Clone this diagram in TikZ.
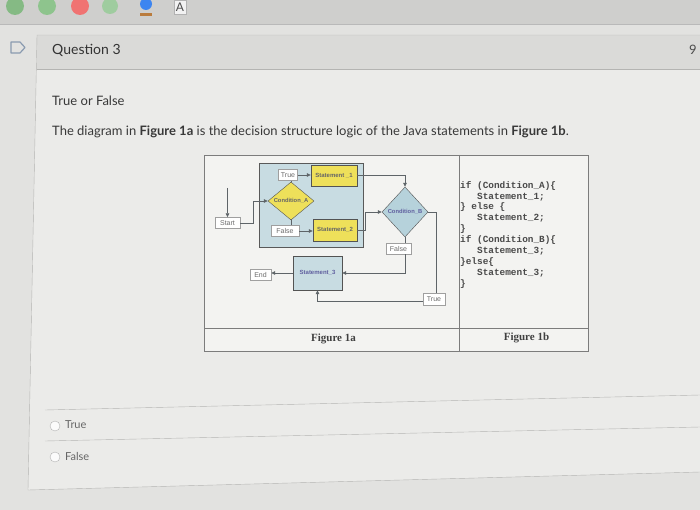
\documentclass[tikz,border=0pt]{standalone}
\usepackage{fontspec}
\setmainfont{Lato}
\newfontfamily\codefont{Liberation Mono}
\newfontfamily\capfont{Liberation Serif}
\newfontfamily\chartfont{Liberation Sans}
\usetikzlibrary{shapes.geometric,arrows.meta}

\definecolor{pagebg}{HTML}{E2E2E0}
\definecolor{cardbg}{HTML}{EBEBE9}
\definecolor{headbg}{HTML}{DADAD8}
\definecolor{barbg}{HTML}{CFCFCD}
\definecolor{cardline}{HTML}{B4B4B2}
\definecolor{figbg}{HTML}{F3F3F1}
\definecolor{figline}{HTML}{7C7C7C}
\definecolor{stmtyellow}{HTML}{EEE05A}
\definecolor{boxblue}{HTML}{C8DCE2}
\definecolor{condblue}{HTML}{B6D2DB}
\definecolor{flowgray}{HTML}{5E6468}
\definecolor{codegray}{HTML}{4A4A4A}
\definecolor{flagblue}{HTML}{8A9BB0}

\begin{document}
\begin{tikzpicture}[x=1pt, y=-1pt,
  every node/.style={inner sep=0pt},
  tag/.style={draw=gray!75, fill=white, text=gray!85!black,
    font=\chartfont\fontsize{7}{7}\selectfont, minimum height=11pt},
  stmt/.style={draw=gray!65!black, fill=stmtyellow, text=black!60,
    font=\chartfont\bfseries\fontsize{6}{6}\selectfont},
  cond/.style={diamond, draw=gray!65!black},
  condtext/.style={text=black!60, font=\chartfont\bfseries\fontsize{5.8}{6}\selectfont},
  flow/.style={draw=flowgray, line width=0.7pt, -{Triangle[length=4pt,width=3.6pt]}},
  link/.style={draw=flowgray, line width=0.7pt}]
  \useasboundingbox (0,0) rectangle (700,510);
  \fill[pagebg] (0,0) rectangle (700,510);

  % browser toolbar
  \fill[barbg] (0,0) rectangle (700,24);
  \draw[gray!55] (0,24) -- (700,24);
  \fill[green!50!black!60, opacity=0.7] (15,6) circle (9);
  \fill[green!55!black!55, opacity=0.7] (47,6) circle (9);
  \fill[red!70!white, opacity=0.7] (80,6) circle (9);
  \fill[green!55!black!45, opacity=0.7] (110,6) circle (8);
  \fill[blue!60!cyan, opacity=0.7] (146,4) circle (6);
  \fill[orange!70!black, opacity=0.7] (140,13) rectangle (152,16);
  \node[draw=gray!60, fill=white!90!gray, minimum width=12pt, minimum height=14pt,
    font=\fontsize{12}{12}\selectfont, text=black!70] (fontbtn) at (180,7) {A};

  % question card
  \fill[cardbg] (37,35) -- (700,35) -- (700,472) -- (28,490) -- cycle;
  \fill[headbg] (37,35) rectangle (700,69);
  \draw[cardline] (700,35) -- (37,35) -- (28,490) -- (700,472);
  \draw[cardline] (37,69) -- (700,69);
  \draw[flagblue, line width=1.2pt, line join=round]
    (11,42) -- (20,42) -- (25,47.5) -- (20,53) -- (11,53) -- cycle;
  \node[anchor=west, font=\fontsize{14}{16}\selectfont, text=black!80] (qtitle) at (52,50) {Question 3};
  \node[anchor=west, font=\fontsize{13}{15}\selectfont, text=black!70] (qpts) at (689,50) {9};
  \node[anchor=west, font=\fontsize{13}{15}\selectfont, text=black!78] (qtype) at (52,101) {True or False};
  \node[anchor=west, font=\fontsize{13}{15}\selectfont, text=black!78] (qtext) at (52,132)
    {The diagram in \textbf{Figure 1a} is the decision structure logic of the Java statements in \textbf{Figure 1b}.};

  % figure frame
  \fill[figbg] (204,155) rectangle (588,351);
  \draw[figline, line width=0.8pt] (204,155) rectangle (588,351);
  \draw[figline, line width=0.8pt] (459,155) -- (459,351);
  \draw[figline, line width=0.8pt] (204,328) -- (588,328);
  \node[font=\capfont\bfseries\fontsize{11}{12}\selectfont, text=black!75] (capA) at (333.5,339) {Figure 1a};
  \node[font=\capfont\bfseries\fontsize{11}{12}\selectfont, text=black!75] (capB) at (526.5,338) {Figure 1b};

  % flowchart
  \filldraw[fill=boxblue, draw=gray!70!black, line width=0.6pt] (259,163) rectangle (363,247);
  \node[tag, minimum width=25pt] (start) at (227.5,223) {Start};
  \coordinate (entry) at (227.5,188);
  \node[cond, fill=stmtyellow, minimum width=46pt, minimum height=38pt,
    label={[condtext]center:Condition\_A}] (condA) at (291,201) {};
  \node[tag, minimum width=19pt] (trueA) at (288,175) {True};
  \node[stmt, minimum width=46pt, minimum height=21pt] (s1) at (334,175.5) {Statement \_1};
  \node[tag, minimum width=28pt] (falseA) at (285,231) {False};
  \node[stmt, minimum width=44pt, minimum height=22pt] (s2) at (335,230) {Statement\_2};
  \node[cond, fill=condblue, minimum width=46pt, minimum height=50pt,
    label={[condtext, text=blue!25!gray]center:Condition\_B}] (condB) at (405,212) {};
  \node[tag, minimum width=25pt] (falseB) at (398.5,248.5) {False};
  \node[stmt, fill=boxblue, text=blue!25!gray, minimum width=49pt, minimum height=34pt] (s3) at (317.5,273) {Statement\_3};
  \node[tag, minimum width=21pt] (endn) at (260.5,274.5) {End};
  \node[tag, minimum width=22pt, minimum height=12pt] (trueB) at (434,299) {True};

  \draw[flow] (entry) -- (start);
  \draw[flow] (start.east) -- ++(13,0) |- (condA.west);
  \draw[link] (condA.north) -- (condA.north |- trueA.south);
  \draw[link] (condA.south) -- (condA.south |- falseA.north);
  \draw[flow] (trueA.east) -- (trueA.east -| s1.west);
  \draw[flow] (falseA.east) -- (falseA.east -| s2.west);
  \draw[flow] (s1.east) -| (condB.north);
  \draw[flow] (s2.east) -- ++(8,0) |- (condB.west);
  \draw[link] (condB.east) -| ([xshift=2pt]trueB.north);
  \draw[link] (condB.south) -- (condB.south |- falseB.north);
  \draw[flow] (falseB.south -| condB.south) |- (s3.east);
  \draw[flow] ([yshift=-2.5pt]trueB.west) -| (s3.south);
  \draw[flow] (s3.west) -- (s3.west -| endn.east);

  % java code
  \node[anchor=north west, align=left, text=codegray,
    font=\codefont\bfseries\fontsize{9.4}{10.9}\selectfont] (code) at (460,181)
    {if (Condition\_A)\{\\
     \ \ \ Statement\_1;\\
     \}\ else\ \{\\
     \ \ \ Statement\_2;\\
     \}\\
     if (Condition\_B)\{\\
     \ \ \ Statement\_3;\\
     \}else\{\\
     \ \ \ Statement\_3;\\
     \}};

  % answers
  \draw[cardline] (45,410) -- (700,395);
  \draw[cardline] (45,441) -- (700,427);
  \draw[gray!60, fill=white!80!cardbg] (55,426) circle (5);
  \draw[gray!60, fill=white!80!cardbg] (55,457) circle (5);
  \node[anchor=west, font=\fontsize{11}{13}\selectfont, text=black!60] (optT) at (65,425) {True};
  \node[anchor=west, font=\fontsize{11}{13}\selectfont, text=black!60] (optF) at (65,456) {False};
\end{tikzpicture}
\end{document}
